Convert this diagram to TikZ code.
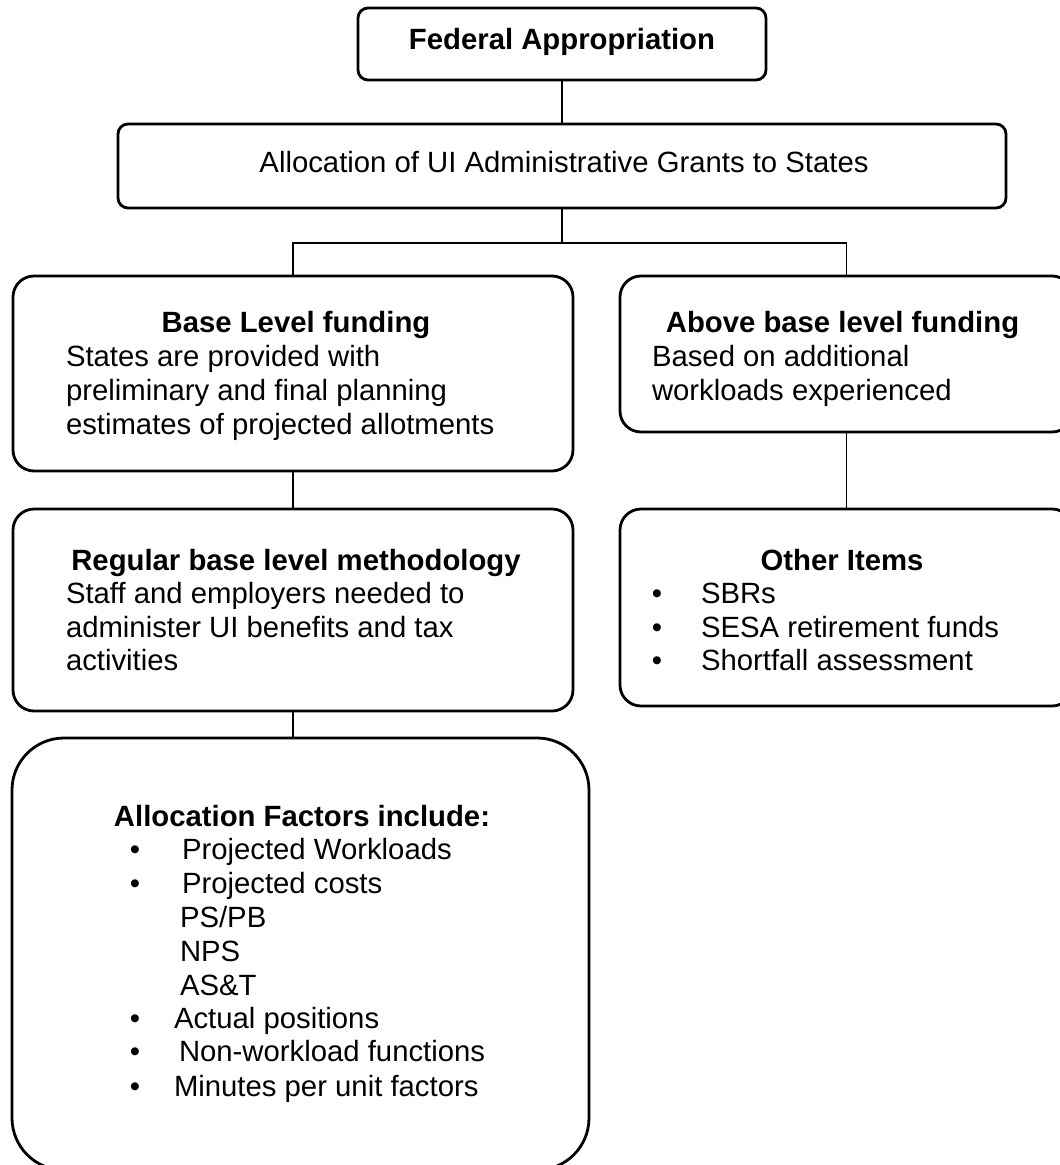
\documentclass[tikz,border=0pt]{standalone}
\usepackage{fontspec}
\setmainfont{Liberation Sans}
\begin{document}
\begin{tikzpicture}[x=1pt,y=-1pt,
  box/.style={draw, line width=2.8pt, inner sep=0pt, outer sep=0pt, fill=white},
  link/.style={draw, line width=1.2pt},
  txt/.style={inner sep=0pt, outer sep=0pt, font=\fontsize{29.3}{33.7}\selectfont},
  txtb/.style={inner sep=0pt, outer sep=0pt, font=\fontsize{29.3}{33.7}\selectfont\bfseries},
  bl/.style={txt, anchor=base west},
  bul/.style={txt, anchor=base}]
\useasboundingbox (0,0) rectangle (1060,1165);
\fill[white] (0,0) rectangle (1060,1165);

% boxes
\node[box, rounded corners=10pt, minimum width=408pt, minimum height=72pt] (fed) at (562,44) {};
\node[box, rounded corners=10pt, minimum width=888pt, minimum height=84pt] (alloc) at (562,166) {};
\node[box, rounded corners=21pt, minimum width=560pt, minimum height=195pt] (base) at (293,373.5) {};
\node[box, rounded corners=21pt, minimum width=453pt, minimum height=156pt] (above) at (846.5,354) {};
\node[box, rounded corners=21pt, minimum width=560pt, minimum height=202pt] (reg) at (293,610) {};
\node[box, rounded corners=21pt, minimum width=453pt, minimum height=197pt] (other) at (846.5,607.5) {};
\node[box, rounded corners=52pt, minimum width=577pt, minimum height=432pt] (factors) at (300.5,954) {};

% connectors
\coordinate (split) at (562,243);
\draw[link] (fed.south) -- (alloc.north);
\draw[link] (alloc.south) -- (split);
\draw[link] (split) -| (base.north);
\draw[link] (split) -| (above.north);
\draw[link] (base.south) -- (reg.north);
\draw[link] (above.south) -- (other.north);
\draw[link] (reg.south) -- (reg.south |- factors.north);

% texts
\node[txtb, anchor=base] (t1) at (562,49.3) {Federal Appropriation};
\node[txt, anchor=base] (t2) at (564,172.7) {Allocation of UI Administrative Grants to States};

\node[txtb, anchor=base] (t3) at (296,332.7) {Base Level funding};
\node[bl] (t3a) at (66,366.7) {States are provided with};
\node[bl] (t3b) at (66,400.3) {preliminary and final planning};
\node[bl] (t3c) at (66,434) {estimates of projected allotments};

\node[txtb, anchor=base] (t4) at (842.5,332.7) {Above base level funding};
\node[bl] (t4a) at (652,366.7) {Based on additional};
\node[bl] (t4b) at (652,400.3) {workloads experienced};

\node[txtb, anchor=base] (t5) at (296,570) {Regular base level methodology};
\node[bl] (t5a) at (66,603.5) {Staff and employers needed to};
\node[bl] (t5b) at (66,637) {administer UI benefits and tax};
\node[bl] (t5c) at (66,670.7) {activities};

\node[txtb, anchor=base] (t6) at (842,570) {Other Items};
\node[bul] (b6a) at (657,603.5) {•};
\node[bl] (t6a) at (701,603.5) {SBRs};
\node[bul] (b6b) at (657,637) {•};
\node[bl] (t6b) at (701,637) {SESA retirement funds};
\node[bul] (b6c) at (657,670.7) {•};
\node[bl] (t6c) at (701,670.7) {Shortfall assessment};

\node[txtb, anchor=base] (t7) at (302,826) {Allocation Factors include:};
\node[bul] (b7a) at (135,859.5) {•};
\node[bl] (t7a) at (182,859.5) {Projected Workloads};
\node[bul] (b7b) at (135,893.3) {•};
\node[bl] (t7b) at (182,893.3) {Projected costs};
\node[bl] (t7c) at (180,927.5) {PS/PB};
\node[bl] (t7d) at (180,961) {NPS};
\node[bl] (t7e) at (180,995) {AS\&T};
\node[bul] (b7f) at (135,1028.3) {•};
\node[bl] (t7f) at (174,1028.3) {Actual positions};
\node[bul] (b7g) at (135,1061.7) {•};
\node[bl] (t7g) at (179,1061.7) {Non-workload functions};
\node[bul] (b7h) at (135,1096) {•};
\node[bl] (t7h) at (174,1096) {Minutes per unit factors};
\end{tikzpicture}
\end{document}
